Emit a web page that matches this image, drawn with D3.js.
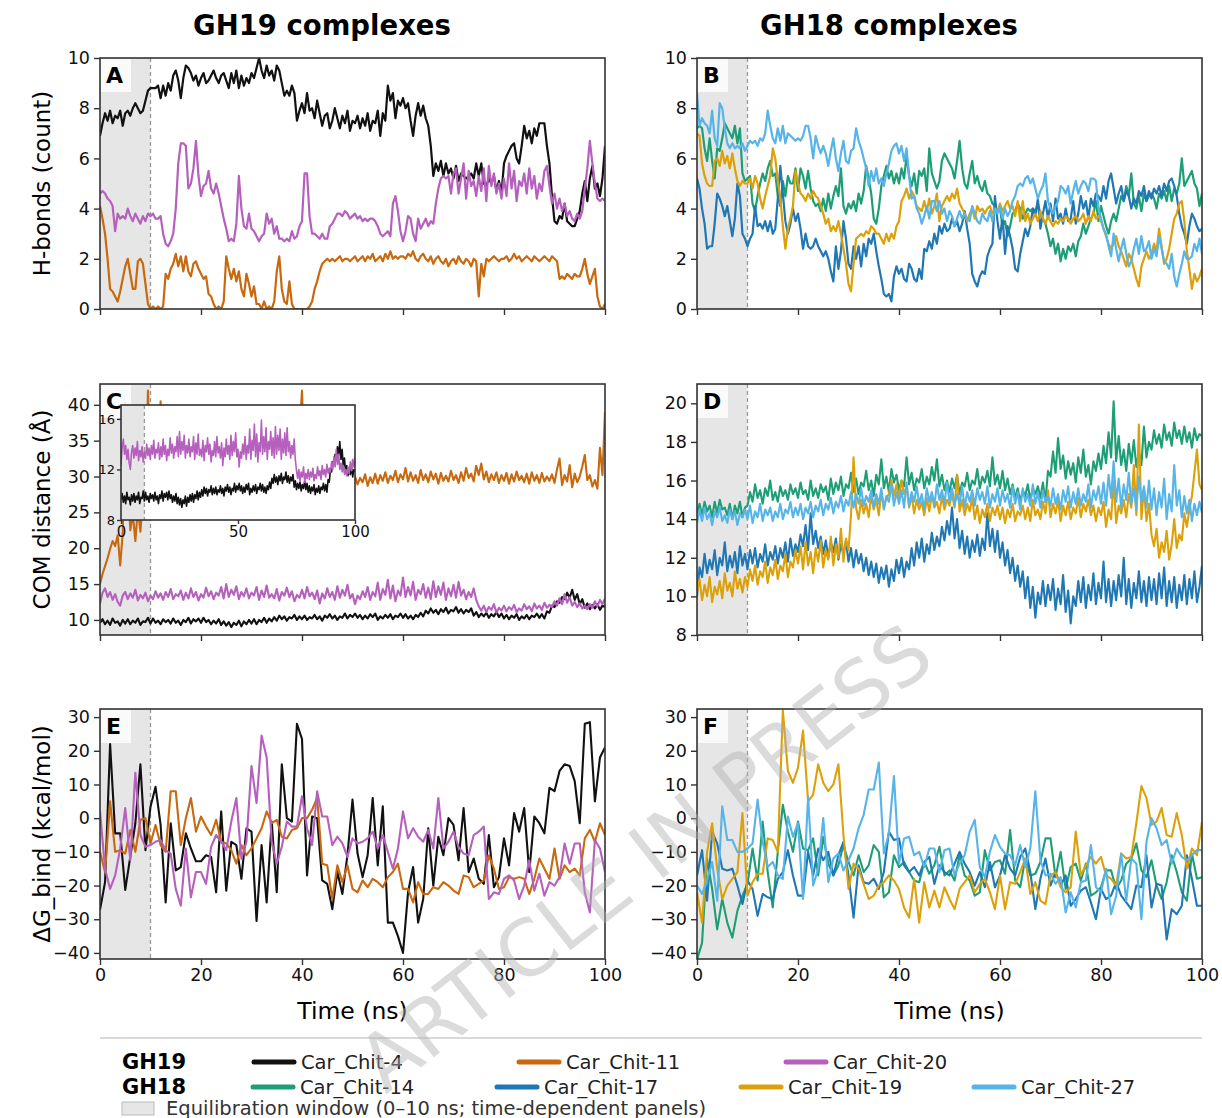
<!DOCTYPE html>
<html><head><meta charset="utf-8">
<script src="https://cdn.jsdelivr.net/npm/d3@7"></script>
<style>body{margin:0;background:#fff}svg{display:block}text{font-family:"DejaVu Sans",sans-serif}</style>
</head><body><svg id="c" width="1222" height="1118"></svg>
<script>
// ---------------- DATA ----------------
const seriesNames = ["Car_Chit-4","Car_Chit-11","Car_Chit-20","Car_Chit-14","Car_Chit-17","Car_Chit-19","Car_Chit-27"];
const xTicks = [0,20,40,60,80,100];
const hbTicks = [0,2,4,6,8,10];
const comGH19Ticks = [10,15,20,25,30,35,40];
const comGH18Ticks = [8,10,12,14,16,18,20];
const dgTicks = [-40,-30,-20,-10,0,10,20,30];
const insetXTicks = [0,50,100];
const insetYTicks = [8,12,16];

// H-bonds, 0.5 ns sampling (0..100 ns)
const hb4 = [6.9,7.4,7.8,7.5,7.9,7.4,7.7,7.6,7.9,7.3,7.8,7.9,7.7,8.0,8.2,8.0,7.8,7.9,8.3,8.7,
8.8,8.8,8.8,8.9,8.4,8.9,8.5,9.0,8.7,9.3,9.5,9.1,8.4,9.2,9.7,9.6,9.4,9.1,9.3,8.9,
9.2,9.4,9.0,9.1,9.3,9.5,9.2,9.0,9.3,9.4,9.1,8.8,9.4,9.0,9.5,8.8,9.3,8.9,9.2,9.0,
9.4,9.2,9.6,10.0,9.5,9.2,9.7,9.3,9.5,9.1,9.7,9.5,9.0,8.5,8.7,8.5,8.9,8.6,7.5,7.9,
8.2,7.8,8.6,7.9,8.0,7.6,8.3,7.8,7.3,7.7,7.8,7.2,7.5,8.0,7.6,7.2,7.7,7.4,7.9,7.1,
7.5,7.4,7.7,7.2,7.6,7.3,7.8,7.1,7.5,7.4,7.9,6.9,7.8,7.5,8.9,8.3,8.6,7.6,8.3,8.1,
8.4,8.0,8.2,7.5,6.9,7.7,8.2,7.7,8.1,7.6,7.3,6.5,5.3,5.8,5.5,5.9,5.3,5.8,5.4,5.6,
5.2,5.7,5.1,5.4,5.3,5.2,5.3,5.4,5.2,5.8,5.3,5.8,5.0,4.9,5.2,5.0,5.3,4.7,5.1,4.6,
5.8,6.1,6.3,6.5,6.6,6.0,5.8,6.5,7.3,6.8,7.1,6.6,7.2,6.9,7.4,7.4,7.4,6.5,5.8,4.5,
3.5,3.4,3.7,3.6,4.2,3.5,3.4,3.3,3.3,3.6,3.9,4.6,5.1,4.3,5.2,5.7,4.8,5.0,4.5,5.2,
6.5];
const hb11 = [4.1,3.6,3.0,2.0,0.8,0.7,0.5,0.3,0.7,1.2,1.7,2.0,1.4,0.8,0.8,1.9,2.0,1.8,1.0,0.2,
0.0,0.1,0.0,0.1,0.0,0.1,1.4,1.2,1.6,1.8,2.2,1.7,2.1,1.5,2.1,1.5,1.3,1.8,1.9,1.6,
1.4,1.2,1.3,0.6,0.5,0.2,0.0,0.1,0.0,0.3,2.1,1.6,1.2,1.6,1.1,1.5,0.8,0.5,1.4,1.0,
0.5,0.9,0.2,0.2,0.0,0.3,0.0,0.1,0.0,0.3,1.5,2.1,0.8,0.3,0.2,1.1,0.2,0.0,0.0,0.0,
0.0,0.0,0.0,0.1,0.3,0.8,1.1,1.5,1.8,1.9,2.0,1.9,2.0,1.9,2.0,2.1,1.9,2.0,2.0,1.9,
2.0,2.1,1.9,2.0,2.1,1.9,2.1,2.0,2.2,1.9,2.0,2.1,1.9,2.2,2.0,2.3,2.0,2.1,2.0,2.1,
2.1,2.0,2.2,2.1,2.3,2.0,1.9,2.1,2.2,2.0,1.9,2.1,1.8,2.0,2.1,1.9,1.8,2.0,1.7,1.9,
2.0,1.8,2.1,1.9,1.8,2.0,1.9,1.7,2.0,1.9,0.5,1.8,1.3,2.0,1.9,2.0,2.1,2.0,1.9,2.0,
2.0,2.1,1.9,2.0,2.2,2.0,2.1,1.9,2.0,2.1,2.0,1.9,2.1,2.0,1.9,2.0,2.1,2.0,1.9,2.1,
2.0,1.9,1.2,1.3,1.2,1.4,1.3,1.2,1.4,1.3,1.3,1.6,2.0,1.4,1.0,1.3,1.6,0.5,0.1,0.0,
0.2];
const hb20 = [4.6,4.7,4.6,4.4,4.3,4.1,3.1,3.8,3.6,3.7,3.6,4.0,3.7,3.5,3.8,3.6,3.4,3.7,3.5,3.8,
3.7,3.8,3.6,3.6,3.7,3.0,2.6,2.5,2.7,3.0,4.0,5.8,6.6,6.6,6.5,4.8,5.0,5.6,6.7,5.3,
4.5,4.9,5.0,5.5,4.8,4.6,5.0,4.6,4.1,3.6,3.2,2.7,2.8,2.7,3.4,5.3,4.0,3.3,3.2,3.8,
3.2,3.1,2.9,2.7,2.9,3.0,3.8,3.4,3.6,3.0,3.3,2.8,2.8,2.7,2.8,2.7,3.1,2.8,2.9,3.3,
3.5,5.4,5.4,3.7,3.0,3.0,2.9,2.8,3.0,2.8,2.8,3.3,3.4,3.6,3.8,3.8,3.7,3.9,3.8,3.6,
3.7,3.8,3.6,3.7,3.5,3.6,3.5,3.6,3.6,3.5,3.3,3.0,2.9,3.0,3.1,2.9,4.2,4.5,3.9,3.1,
2.7,3.1,3.7,3.6,3.0,2.7,3.6,3.2,3.4,3.6,3.3,3.5,3.4,4.2,4.8,5.2,5.3,5.2,5.3,4.6,
5.4,5.6,4.6,5.2,5.8,4.4,5.5,4.9,5.1,4.5,5.3,4.7,5.6,4.3,5.7,4.9,5.4,4.6,5.0,4.4,
5.2,4.5,5.8,4.8,5.5,4.3,5.1,4.9,5.4,4.6,5.6,4.8,5.3,4.4,5.0,4.7,5.5,5.7,4.9,4.2,
4.6,4.0,4.4,3.9,4.2,3.7,3.9,3.6,3.5,3.8,3.6,3.9,4.8,5.6,6.7,5.8,5.0,4.4,4.3,4.4,
4.3];
const hb14 = [7.2,7.3,7.2,6.4,5.9,6.8,5.9,5.2,6.4,6.3,6.8,7.4,7.2,7.0,6.8,7.3,6.6,7.2,5.4,5.1,
5.2,5.3,4.2,3.9,4.5,5.0,5.4,5.1,5.6,5.9,5.3,5.4,4.5,4.1,5.1,4.5,5.3,5.0,5.0,5.6,
4.7,5.6,5.3,4.8,5.5,4.8,4.3,4.1,4.2,3.9,4.4,3.9,4.6,4.0,4.5,4.9,4.5,5.6,4.1,3.8,
4.2,4.0,4.3,3.9,4.6,4.2,4.7,5.7,5.2,4.6,3.6,3.4,4.0,4.9,5.3,5.7,5.2,5.5,5.0,5.4,
5.0,5.6,5.2,6.1,5.3,4.9,5.4,4.6,5.5,5.3,5.6,4.7,6.4,5.4,5.1,4.8,5.1,5.9,6.2,6.0,
5.8,5.6,5.2,5.9,6.7,5.6,5.0,4.8,5.4,5.9,5.0,5.3,4.9,4.7,5.1,4.6,4.5,4.2,4.1,3.9,
4.0,3.3,3.5,2.9,3.3,3.8,3.9,4.2,4.0,3.6,3.8,4.0,3.9,4.0,3.9,4.2,3.8,3.6,3.4,3.0,
2.5,2.8,2.2,2.6,1.9,2.4,2.0,2.5,2.3,2.6,2.1,2.7,2.9,3.4,3.0,3.3,3.6,3.8,4.3,3.5,
4.1,3.7,3.3,3.0,3.5,3.8,3.5,4.0,4.5,4.3,4.9,4.5,5.4,4.2,4.0,4.5,3.9,4.6,4.3,4.5,
4.6,4.4,4.0,4.6,4.4,4.7,4.3,4.9,4.3,4.8,4.6,5.0,6.0,4.9,5.1,5.3,5.5,5.0,4.8,4.1,
4.6];
const hb17 = [5.2,4.8,4.0,3.4,2.4,2.5,2.5,3.4,4.6,4.4,4.1,3.7,4.1,3.5,2.9,3.6,5.0,4.5,3.0,2.8,
2.5,2.8,3.0,4.1,3.3,3.4,3.2,3.5,3.1,3.5,3.0,3.2,4.4,5.7,4.6,3.5,3.0,3.4,4.0,3.5,
3.8,3.2,2.4,3.0,2.5,2.4,2.5,2.8,2.5,2.3,2.1,2.3,2.0,1.5,1.1,2.5,1.6,2.3,3.5,2.8,
1.8,1.6,2.5,2.0,2.5,1.7,2.6,2.1,2.8,2.6,3.0,2.3,1.7,1.2,0.6,0.5,0.6,0.3,1.3,1.7,
1.4,1.6,1.2,1.1,1.8,1.6,1.2,1.1,1.6,1.2,2.4,2.3,2.7,2.4,3.0,2.6,3.3,3.0,3.4,3.1,
3.2,3.6,3.3,3.5,3.1,3.4,3.9,3.2,2.6,1.4,1.1,0.9,1.3,1.5,1.4,2.1,2.4,2.6,4.5,3.5,
2.8,3.7,2.2,3.3,2.9,2.4,1.6,1.5,2.2,2.7,3.2,2.9,3.3,4.0,3.7,4.4,3.2,3.8,4.3,3.6,
4.2,3.5,4.4,3.6,3.8,3.4,4.0,3.5,3.6,4.3,3.4,3.8,4.5,4.0,4.3,3.6,4.4,4.1,4.6,4.5,
4.3,4.9,4.4,5.1,5.4,4.8,4.2,4.6,4.9,4.3,4.7,4.5,4.0,4.4,4.2,4.7,4.5,4.9,4.3,4.7,
4.4,4.8,4.6,4.9,4.5,5.0,4.7,5.1,5.2,4.9,4.5,3.8,3.3,3.0,2.6,3.3,3.8,3.6,3.3,3.1,
3.2];
const hb19 = [7.0,6.9,5.8,5.3,5.0,4.9,4.9,5.9,6.0,5.7,6.3,5.8,6.1,5.6,6.2,5.6,5.1,4.9,5.1,5.0,
5.0,5.2,4.8,5.3,5.0,4.4,4.0,4.5,4.9,5.3,6.4,6.0,5.1,4.4,3.3,2.4,3.2,3.6,4.1,5.5,
5.0,4.6,4.5,4.3,4.6,4.4,4.7,4.5,4.4,4.1,3.8,3.4,3.6,3.1,3.3,3.1,3.5,3.0,2.4,1.8,
1.0,0.7,1.8,2.8,2.9,3.0,2.9,3.1,3.0,3.3,3.2,3.0,3.0,2.8,2.6,3.0,2.7,3.0,2.8,3.3,
3.5,4.3,4.5,4.8,4.4,4.7,4.5,4.1,4.0,3.9,4.3,3.9,4.4,3.8,4.1,4.6,3.5,4.1,4.3,4.5,
4.3,4.6,4.4,4.8,4.2,4.0,3.8,3.5,3.8,4.0,3.6,4.1,3.9,4.0,3.8,4.0,4.1,3.8,4.0,3.9,
4.2,3.9,4.1,4.3,4.0,4.1,3.7,4.3,3.5,4.3,3.5,3.8,3.4,3.6,3.8,3.5,3.9,3.6,3.4,3.7,
3.5,3.3,3.5,3.4,3.6,3.5,3.7,3.6,3.4,3.6,3.7,3.5,3.6,3.8,3.4,3.7,3.5,3.9,3.6,3.7,
3.5,3.2,2.9,2.6,2.4,2.6,2.9,2.5,2.3,2.0,1.7,2.2,2.0,1.6,1.2,0.9,1.7,2.0,2.3,2.0,
2.2,2.6,2.3,3.2,2.5,1.8,2.0,2.4,3.0,3.6,3.8,4.2,4.3,3.5,2.3,1.6,0.8,1.4,1.1,1.3,
1.6];
const hb27 = [8.6,7.3,7.6,7.4,7.3,7.0,7.9,6.8,6.5,8.2,8.0,7.2,6.6,6.4,6.6,6.4,6.5,6.4,6.6,6.3,
6.5,6.7,6.6,6.7,6.5,6.8,6.7,7.0,7.9,7.3,6.8,6.6,7.2,6.7,7.3,6.6,7.0,6.9,6.8,6.7,
6.8,6.7,6.9,7.3,7.3,6.8,6.0,6.9,6.5,6.2,6.5,6.2,5.7,6.3,6.8,6.0,5.5,6.2,6.7,5.9,
5.8,6.3,6.4,7.2,6.7,6.4,6.0,5.6,4.9,5.5,5.1,5.6,5.0,5.2,4.9,5.4,5.8,6.3,6.5,6.6,
6.2,6.5,5.9,6.4,5.3,4.4,4.5,4.0,3.8,3.4,3.7,4.1,3.6,4.3,4.3,3.9,4.3,3.8,4.0,3.5,
3.9,3.7,3.3,3.6,3.9,3.6,3.8,3.6,3.5,4.1,3.8,3.5,3.4,3.8,3.6,3.5,3.9,3.5,4.0,3.8,
4.1,3.6,4.0,3.7,3.9,4.3,4.5,4.9,5.0,4.9,5.2,5.3,5.0,5.2,4.8,4.4,4.7,4.9,5.4,4.3,
4.0,3.8,4.1,4.3,4.9,4.8,4.6,4.9,4.2,4.7,5.1,4.6,4.9,5.1,5.0,4.7,5.2,5.2,5.1,4.0,
3.6,3.2,3.0,2.5,2.1,3.0,2.4,1.9,2.4,2.8,2.2,1.7,1.9,2.4,2.8,2.2,2.9,2.3,2.4,2.7,
2.0,2.4,2.1,2.9,2.4,1.9,1.8,1.6,2.2,1.3,0.9,1.4,1.8,2.3,2.0,2.0,2.1,2.6,2.3,2.8,
2.2];

// COM distance (Å), 0.5 ns sampling
const com4 = [9.6,10.1,9.4,9.9,9.3,10.2,9.6,9.8,9.2,10.0,9.5,10.1,9.4,9.9,9.6,10.2,9.3,9.8,9.7,10.3,
9.5,10.2,9.6,9.9,9.4,10.1,9.7,10.0,9.5,10.2,9.6,9.9,9.3,10.0,9.7,10.3,9.5,10.1,9.8,10.2,
9.6,10.3,9.7,10.0,9.4,9.9,9.5,10.1,9.3,9.8,9.2,9.7,9.0,9.6,9.3,9.9,9.1,9.8,9.4,10.0,
9.5,10.1,9.4,10.0,9.7,10.3,9.6,10.2,9.8,10.4,9.9,10.6,10.1,10.5,9.9,10.4,10.2,10.7,10.0,10.5,
10.1,10.6,10.0,10.4,10.2,10.7,10.1,10.5,9.9,10.6,10.3,10.8,10.2,10.6,10.0,10.5,10.3,10.9,10.2,10.7,
10.4,10.9,10.3,10.7,10.1,10.6,10.2,10.8,10.4,10.9,10.0,10.5,10.2,10.7,10.3,10.8,10.1,10.6,10.4,10.9,
10.3,10.8,10.2,10.6,10.1,10.7,10.4,11.0,10.5,11.3,10.9,11.6,11.0,11.4,10.8,11.5,11.1,11.7,10.9,11.4,
11.2,11.8,11.0,11.5,10.9,11.4,11.1,11.6,10.6,11.1,10.4,10.9,10.5,11.0,10.3,10.8,10.5,11.1,10.4,10.9,
10.2,10.7,10.1,10.6,10.3,10.8,10.0,10.5,10.2,10.7,10.1,10.6,10.4,10.9,10.3,10.8,10.2,11.2,11.0,12.0,
11.8,12.6,12.4,13.2,12.9,13.8,13.1,14.2,12.8,13.6,12.2,12.9,11.7,12.3,11.5,12.1,11.6,12.2,11.4,12.0,
11.8];
const com11 = [15.0,16.4,17.5,18.6,19.9,21.0,20.3,21.8,17.6,22.1,40.2,30.0,22.5,24.8,21.0,25.6,22.3,27.0,28.5,42.0,
29.0,30.6,29.4,31.0,40.5,29.8,30.4,29.2,30.7,29.5,30.2,29.0,30.8,29.6,30.3,29.1,30.6,29.4,30.0,29.3,
30.5,29.2,30.8,29.6,30.1,29.0,30.7,29.5,30.3,29.1,30.9,29.4,30.2,29.7,30.6,29.0,30.4,29.3,30.8,29.5,
30.1,29.2,30.7,29.6,30.3,29.0,30.9,29.4,30.2,29.8,30.6,29.1,30.4,29.5,30.8,29.3,30.0,29.6,30.5,36.0,
42.0,30.5,29.4,30.2,29.1,30.6,29.5,30.3,29.0,30.7,29.4,30.1,29.6,30.5,29.2,30.8,29.3,30.0,29.5,30.4,
28.8,30.0,28.9,29.8,29.2,30.3,28.7,29.9,29.1,30.4,29.0,30.2,29.4,30.6,29.1,30.1,29.5,30.8,29.2,30.3,
29.6,31.2,29.3,30.6,29.4,30.2,29.1,30.9,29.5,30.3,29.2,30.7,29.6,30.4,29.0,30.5,29.4,30.1,29.3,30.8,
29.5,30.2,29.1,30.6,29.4,31.2,29.8,30.4,29.3,31.5,30.2,31.8,29.6,30.7,29.2,30.3,29.5,30.6,29.1,30.2,
29.4,30.5,29.0,30.3,29.3,30.7,29.5,30.1,29.2,30.4,29.0,30.6,29.4,30.2,29.1,30.5,29.3,30.0,29.4,30.3,
29.1,31.0,32.5,28.8,30.2,29.3,31.6,28.5,30.4,29.2,30.0,31.4,33.0,29.5,30.2,28.6,29.5,28.3,34.0,30.2,
39.0];
const com20 = [12.3,13.8,14.4,13.2,13.9,12.8,13.6,12.5,12.0,13.4,13.9,12.9,13.7,13.1,14.2,12.7,13.5,13.0,13.8,12.6,
13.4,12.9,14.0,13.1,13.7,12.8,13.9,13.2,14.3,12.9,13.6,13.3,14.1,12.8,13.8,13.0,14.4,13.2,13.9,12.7,
13.6,13.1,14.5,13.3,14.0,12.9,13.8,13.4,14.6,13.0,15.0,13.2,14.2,13.5,14.7,12.9,13.9,13.3,14.4,13.0,
13.8,13.4,14.6,12.8,14.1,13.2,14.8,13.1,13.6,13.0,14.3,12.7,13.9,13.4,14.5,13.2,14.0,12.6,13.5,13.1,
14.2,13.0,14.6,13.3,13.8,12.9,14.1,12.3,13.7,13.0,14.4,13.2,13.9,12.8,14.7,13.1,14.2,13.4,14.9,13.0,
13.6,12.2,13.4,12.9,14.0,13.2,14.6,12.8,13.9,13.3,15.2,12.8,14.3,13.5,15.6,13.0,14.8,12.6,14.1,13.4,
15.9,13.2,14.6,13.4,15.3,12.8,14.2,13.6,15.0,13.1,14.5,12.9,15.4,13.2,14.7,13.5,15.2,12.8,14.4,13.3,
14.9,13.1,15.3,13.4,14.2,12.9,13.9,13.2,14.4,12.8,11.9,11.3,12.0,11.1,11.8,11.4,12.2,11.0,11.7,11.3,
12.0,11.2,11.8,11.4,12.1,11.1,11.6,11.3,12.2,11.5,11.9,11.2,12.3,11.6,12.0,11.4,12.4,11.7,12.1,11.8,
12.6,12.0,13.0,12.2,13.6,12.4,13.2,12.0,12.5,11.8,12.3,11.6,12.0,11.5,12.2,11.7,12.6,11.9,12.8,12.2,
13.0];
const com14 = [14.3,14.8,14.2,14.9,14.4,14.7,14.1,14.9,14.3,15.0,14.5,14.6,14.2,14.8,14.0,14.7,14.3,14.9,14.1,14.6,
14.7,15.4,14.9,15.8,15.1,15.5,14.8,15.6,15.2,16.0,15.0,15.4,14.9,15.7,15.2,15.5,15.0,15.8,15.3,15.6,
15.1,15.9,15.3,15.5,15.0,16.0,15.2,15.6,15.1,15.8,15.4,15.7,15.0,16.1,15.3,15.9,15.5,16.2,15.2,15.8,
15.6,16.4,15.4,16.1,15.3,15.9,15.7,16.5,15.5,16.0,15.2,16.3,15.8,17.1,15.6,16.2,15.4,16.6,15.9,16.3,
15.5,16.0,15.7,17.2,15.8,16.4,15.5,16.1,15.9,16.6,15.6,16.2,15.8,16.7,16.0,17.1,15.7,16.3,15.5,16.0,
15.4,16.1,15.6,16.3,15.3,15.9,15.7,16.4,15.5,16.0,15.8,16.6,15.6,16.2,15.9,16.5,15.7,17.2,15.8,16.3,
15.6,16.5,15.5,16.1,15.3,15.8,15.1,15.6,14.9,15.5,15.2,15.8,15.0,15.6,15.3,15.7,15.1,15.9,14.9,16.5,
16.2,17.5,16.4,18.2,16.6,17.3,16.1,17.0,16.3,16.9,15.9,17.2,16.4,17.6,16.2,16.8,15.8,17.0,16.5,17.4,
16.6,17.8,16.9,18.5,17.2,20.1,17.0,18.3,16.8,17.6,16.5,17.9,16.9,18.1,16.7,17.5,16.8,18.8,17.2,18.0,
17.6,18.6,17.9,18.4,17.7,18.9,18.1,18.5,17.8,19.0,18.2,18.6,17.9,18.8,18.0,18.5,17.7,18.7,18.1,18.4,
18.3];
const com17 = [10.0,11.5,11.0,12.2,11.2,11.9,11.4,12.4,11.1,12.0,11.6,12.8,11.3,12.1,11.5,12.3,11.2,12.6,11.6,12.2,
11.4,12.4,11.7,12.5,11.5,12.2,11.8,12.7,11.6,12.3,11.9,12.6,11.7,12.5,12.0,12.8,11.8,13.0,12.1,12.7,
12.3,13.2,12.6,13.7,12.4,14.3,12.7,13.4,12.5,13.1,12.2,12.9,12.0,12.8,12.3,13.0,11.9,12.7,12.2,12.9,
11.8,12.5,11.5,12.4,11.7,12.2,11.3,12.0,11.1,11.8,11.0,11.7,10.7,11.5,10.9,11.6,10.5,11.4,10.8,11.9,
11.2,12.0,11.0,11.8,11.4,12.5,11.6,12.8,12.0,13.0,11.8,12.7,12.2,13.3,12.4,13.1,12.6,13.6,12.9,13.9,
13.2,14.6,13.0,14.0,12.5,13.4,12.2,13.1,12.0,12.9,12.3,13.2,12.1,13.0,12.4,14.3,12.6,13.5,12.3,13.4,
12.0,12.8,11.6,12.4,11.2,12.0,10.8,11.6,10.5,11.3,9.9,11.0,9.4,10.5,8.9,10.2,9.6,10.8,9.5,10.6,
9.8,10.9,9.3,10.4,9.6,11.1,9.2,10.3,8.6,10.0,9.5,10.8,9.7,11.0,9.4,10.6,9.8,11.2,9.6,10.7,
9.9,11.8,9.7,10.9,9.5,10.8,9.8,11.1,10.0,12.0,9.6,10.9,9.4,10.7,9.9,11.3,9.7,10.8,9.5,11.0,
9.8,10.9,9.6,11.2,9.9,11.5,9.5,10.8,9.7,11.0,9.4,10.6,9.8,11.1,9.6,10.9,9.9,11.3,9.7,10.5,
11.6];
const com19 = [10.2,10.9,9.8,10.6,10.0,11.0,9.7,10.5,10.1,10.8,9.9,11.2,10.3,10.7,10.0,11.3,10.4,10.9,10.2,11.0,
10.5,11.4,10.8,11.6,10.6,11.3,11.0,11.8,10.7,11.5,11.1,11.9,10.9,11.6,11.3,12.2,11.0,11.8,11.5,12.4,
11.7,12.6,11.4,12.8,11.6,12.3,11.2,12.5,11.8,12.9,11.5,12.4,11.9,13.1,11.6,12.7,12.0,13.5,11.8,13.0,
12.4,14.2,17.2,14.6,14.0,15.0,14.3,14.8,14.1,15.2,14.5,15.0,14.2,15.4,14.6,15.1,15.3,16.0,15.2,15.8,
15.1,16.0,15.3,15.7,14.6,15.2,14.3,15.0,14.5,14.9,14.2,15.1,14.4,15.3,14.6,14.9,14.3,15.2,14.5,15.0,
14.7,15.3,14.6,16.3,14.4,15.0,14.2,14.8,14.4,15.1,14.0,14.7,13.8,14.5,14.1,14.8,13.9,14.6,14.2,14.7,
14.0,14.6,13.8,14.5,14.1,14.8,13.9,14.4,14.2,14.7,14.0,14.6,13.9,15.0,14.2,14.5,14.0,14.9,14.3,15.5,
14.1,14.8,14.3,15.0,13.9,14.7,14.2,14.9,14.0,14.6,14.3,15.1,14.1,14.8,14.4,15.0,14.2,14.7,13.9,14.6,
14.2,14.9,13.6,14.5,14.0,16.0,13.8,14.7,14.3,15.0,14.1,15.3,14.6,16.8,14.2,18.9,14.0,15.6,13.9,14.8,
13.2,12.6,13.5,12.0,12.8,12.3,13.4,11.9,12.7,14.0,12.5,13.2,12.9,14.3,13.6,14.5,15.2,16.4,17.6,15.8,
15.5];
const com27 = [13.8,14.5,13.9,14.6,14.0,14.3,13.7,14.4,14.1,14.6,13.9,14.2,13.8,14.5,14.0,14.4,13.7,14.3,14.1,14.5,
14.0,14.7,13.8,14.4,14.1,14.8,13.9,14.5,14.2,14.6,13.9,14.4,14.1,14.8,14.0,14.5,14.3,14.9,14.1,14.6,
14.2,14.8,14.0,14.6,14.3,14.9,14.1,14.7,14.4,15.0,14.2,14.8,14.5,15.1,14.3,14.9,14.6,15.2,14.4,15.0,
14.7,15.4,14.6,15.3,14.8,15.6,14.7,15.2,14.9,15.5,14.6,15.3,14.8,15.6,14.5,15.2,14.9,15.8,14.7,15.4,
14.8,15.5,14.6,15.9,14.7,15.4,14.9,15.7,14.8,15.3,14.5,15.6,14.9,15.4,14.7,15.8,15.0,15.5,14.8,15.9,
14.9,15.6,14.7,15.3,14.8,15.7,14.6,15.4,14.9,15.5,14.7,15.6,15.0,15.4,14.8,15.7,14.6,15.3,14.9,15.6,
14.7,15.5,14.9,15.3,14.6,15.7,14.8,15.4,14.5,15.6,14.9,15.3,14.7,15.8,14.8,15.4,14.6,15.5,14.9,15.2,
14.7,15.6,14.8,15.3,14.5,15.5,14.9,15.7,14.6,15.4,14.8,15.6,14.7,15.3,14.9,15.8,14.6,15.5,15.0,15.7,
14.8,15.9,14.7,16.3,15.1,17.0,14.9,16.1,14.6,15.8,15.0,16.4,14.8,15.6,14.5,16.2,14.9,15.7,14.6,16.0,
14.5,15.6,14.2,15.4,14.6,16.1,14.0,15.3,14.4,16.8,14.7,15.5,14.1,15.2,14.3,15.0,13.9,14.8,14.2,14.9,
14.3];

// ΔG_bind (kcal/mol), 1 ns sampling
const dg4 = [-27.2,-19,22,-4.5,-4.5,-21.3,-11.4,-1.5,16,-9.5,3.4,9.3,-2,-25,-1.5,-15.5,-14.5,-4.5,-9,-12.8,-12.8,-11,-11.5,-22,2,-21.5,-7,-8,-18,-3,-4,-30.5,-8,-25,-1,-22,16,0,-1,28,23.5,-17,0.5,0,-18.5,-19.5,-27,-16,-22.5,-11,5.5,-10.5,-17.5,-11,6,-14,3.5,-31,-31,-35,-40,-22,-14.5,-31,-24,-3,-20,-5.5,-11,0,-2,-12.5,3,-16,-12,-18,-19.5,-5,-20.5,-17.5,-6,-14,1.5,-4,3,-16,0.5,-1.5,-4.5,9,8,14,16,15.5,11,-1.5,28,28.5,5,18,21];
const dg11 = [-10,-16,5,-10,-9.5,-10.5,-3.5,-10,-0.5,0,-7.5,-2,-8,-10,8,8,-8,0,6,-4,0.5,-2.5,-5,-0.5,-7,-7.5,-9.5,-13.5,-8,-11,-9,-6,-3,2,-1.5,-0.5,-5.5,-6,-3.5,-3,0,0,2.5,6,-13.5,-14,-24,-14,-19,-14,-21,-22,-18.5,-20.5,-18,-19,-20.5,-17.5,-16,-13.5,-21,-21,-25,-19,-22.5,-22.5,-20.5,-21,-19,-20,-21.5,-22.5,-17,-17.5,-20.5,-19.5,-18.5,-11,-15,-21,-20.5,-17.5,-18,-17.5,-18,-22.5,-18,-12,-15,-18,-9,-18,-14,-16,-15,-17,-6,-3.5,-7,-1.5,-5];
const dg20 = [2,-15,-21,-17,-9,3,-12.5,13.5,-5,-8.5,-8,-7,-6.5,-9.5,-10.5,-21,-26,-9,-23.5,-16,-16,-19.5,-8.5,-5,-7,-9.5,-1,6,-12,-7,15.5,4.5,24.5,18,-7,-13.5,-8.5,-1,-2.5,-2.5,6.5,-3,-8,8,0.5,0.5,-8,-5.5,-7.5,-11.5,-6,-7.5,-7,-6,-4,-9,-5,-10,-15,-9,2,-6,-3,-5.5,-7,-3.5,-9,6,-9,-7,-4,-8.5,-10.5,-11,-5,-4,-2.5,-24,-22,-22.5,-18,-17,-18.5,-24,-20,-12.5,-21.5,-16.5,-23,-19,-20,-17.5,-7.5,-13.5,-7.5,-7.5,-22,-28,-6.5,-9,-16];
const dg14 = [-42,-37,-12,-21,-33,-24,-31,-35.5,-27.5,-23,-19.5,-9,-18.5,-1,-16,-26.5,-10,4,-4,-10,-1,-9,-9.5,-6,-17,-5.5,-13.5,-17,-14,-8,-13,-17,-11,-16,-14,-8,-10,-23.5,-22,-11,-14.5,-13,-16,-18.5,-19,-13,-16.5,-14,-8.5,-17,-15.5,-18.5,-11,-17,-18.5,-23,-22,-9.5,-15.5,-13,-12.5,-16.5,-3.5,-18.5,-20.5,-12,-17,-16.5,-13,-6,-6,-17.5,-10,-21,-14.5,-13.5,-18.5,-13.5,-23,-22,-20.5,-15.5,-15.5,-21,-18.5,-13.5,-12,-7.5,-15.5,-17.5,-12.5,-20,-24,-19,-11,-16,-22,-24.5,-10.5,-18,-17.5];
const dg17 = [-17,-9.5,-24.5,-4,-7.5,-15,-15.5,-15,-20,-25.5,-18.5,-21,-29,-22.5,-23.5,-24,-18,-16,-9.5,-17,-23,-23,-10,-17,-9,-12.5,-10,-17,-11,-7,-17,-29.5,-14,-19,-19.5,-18,-21,-16,-4,-6.5,-6,-14,-16,-14.5,-17,-13,-11.5,-19.5,-14,-16,-17,-13.5,-10,-13.5,-16,-20,-16,-20.5,-13,-20.5,-17,-11,-15,-17,-11.5,-9,-16,-27,-18,-12,-20,-16,-20,-17,-26,-24,-21.5,-20.5,-25,-30,-21,-24,-23,-19,-23,-25,-27,-20,-20.5,-11,-26.5,-19.5,-20,-36,-27,-28.5,-26,-11,-18,-26,-26];
const dg19 = [-22,-31,-10,-1.5,-15,-24,-20,-18,-16,1.5,-23,-19,-16.5,-16.5,-6,-6.5,-10,32,14,10.5,15,26,5,7,16,10.5,8,10,16,-5,-21,-13.5,-15,-19.5,-24,-23,-20,-19,-17,-18.5,-21,-26.5,-29.5,-18,-31,-19,-26.5,-21.5,-26.5,-20.5,-24,-27,-21,-19,-17,-22,-19.5,-18,-22,-27,-17,-27,-19,-19.5,-16,-12,-22.5,-19,-24.5,-25.5,-17,-16,-20.5,-22,-20.5,-4,-17,-14,-11.5,-13.5,-11.5,-17,-18,-20,-10.5,-12,-11.5,-1.5,9.5,6,-2,-1,3,-5,-5.5,1.5,-5,-15,-9,-11,-1];
const dg27 = [-20,-22.5,-18.5,-13,-24.5,3.5,-6.5,-6.5,-10,-10,-9,-7.5,5.5,-7,-14.5,-13,-17,-18,0.5,-5.5,-1.5,-24,6.5,-20,-15,0,-19,-12,-10.5,-15.5,-12.5,-9,-3,1,8.5,8.5,16.5,-10.5,-4.5,12.5,-13.5,-6,-5.5,-11,-10,-14.5,-9,-9,-16,-9.5,-9,-17,-13.5,-11,-4,-0.5,-14.5,-17.5,-10,-5,-8.5,-10.5,-11,-14,-8,-14.5,-9,8,-12.5,-17,-16.5,-19.5,-17.5,-28,-22,-26.5,-19,-18.5,-8,-20.5,-22,-15,-28.5,-23,-10.5,-24.5,-12,-13.5,-30,-7,0,-3,-8,-6.5,-13.5,-9,-11.5,-12.5,-11,-9.5,-9.5];

// ---------------- STYLE ----------------
const COL = {"Car_Chit-4":"#111111","Car_Chit-11":"#c8680f","Car_Chit-20":"#b660bd",
  "Car_Chit-14":"#1e9e76","Car_Chit-17":"#1f77b4","Car_Chit-19":"#dca10a","Car_Chit-27":"#56b4e9"};
const svg = d3.select("#c");
const FR = "#333";
const colL = {x0:100,x1:605}, colR = {x0:697,x1:1202};
const rowA = {y0:58,y1:309}, rowC = {y0:384,y1:635}, rowE = {y0:709,y1:959};
const defs = svg.append("defs");
let clipN = 0;

function drawPanel(p){
  const x = d3.scaleLinear().domain([0,100]).range([p.x0,p.x1]);
  const y = d3.scaleLinear().domain(p.yd).range([p.y1,p.y0]);
  const g = svg.append("g");
  const cid = "clip"+(clipN++);
  defs.append("clipPath").attr("id",cid).append("rect")
    .attr("x",p.x0).attr("y",p.y0).attr("width",p.x1-p.x0).attr("height",p.y1-p.y0);
  if(p.bg) g.append("rect").attr("x",p.x0).attr("y",p.y0).attr("width",p.x1-p.x0).attr("height",p.y1-p.y0).attr("fill","#fff");
  g.append("rect").attr("x",x(0)).attr("y",p.y0).attr("width",x(10)-x(0)).attr("height",p.y1-p.y0).attr("fill","#e6e6e6");
  g.append("line").attr("x1",x(10)).attr("x2",x(10)).attr("y1",p.y0).attr("y2",p.y1)
    .attr("stroke","#999").attr("stroke-width",1.3).attr("stroke-dasharray","4,3");
  const lg = g.append("g").attr("clip-path",`url(#${cid})`);
  p.series.forEach(s=>{
    const n = s.vals.length;
    const line = d3.line().x((d,i)=>x(i*100/(n-1))).y(d=>y(d));
    lg.append("path").attr("d",line(s.vals)).attr("fill","none")
      .attr("stroke",COL[s.name]).attr("stroke-width",p.lw).attr("stroke-linejoin","round");
  });
  const ya = g.append("g").attr("transform",`translate(${p.x0},0)`)
    .call(d3.axisLeft(y).tickValues(p.yt).tickSize(p.tk||6).tickPadding(p.tp||4).tickFormat(d3.format("d")));
  const xa = g.append("g").attr("transform",`translate(0,${p.y1})`)
    .call(d3.axisBottom(x).tickValues(p.xt).tickSize(p.tk||6).tickPadding(p.tp||4).tickFormat(p.xlab?d3.format("d"):""));
  [ya,xa].forEach(a=>{
    a.select(".domain").remove();
    a.selectAll(".tick line").attr("stroke",FR).attr("stroke-width",1.4);
    a.selectAll(".tick text").attr("fill","#111").style("font-size",(p.fs||17.5)+"px").style("font-family","DejaVu Sans");
  });
  if(p.yfs) ya.selectAll(".tick text").style("font-size",p.yfs+"px");
  g.append("rect").attr("x",p.x0).attr("y",p.y0).attr("width",p.x1-p.x0).attr("height",p.y1-p.y0)
    .attr("fill","none").attr("stroke",FR).attr("stroke-width",1.6);
  if(p.letter){
    g.append("rect").attr("x",p.x0+1).attr("y",p.y0+1).attr("width",30).attr("height",33)
      .attr("fill","#fff").attr("opacity",0.8);
    g.append("text").attr("x",p.x0+6).attr("y",p.y0+25).text(p.letter)
      .style("font-size","22px").style("font-weight","bold").attr("fill","#000");
  }
  return {x,y};
}
function S(name,vals){return {name,vals};}

drawPanel({...colL,...rowA,yd:[0,10],yt:hbTicks,xt:xTicks,lw:2.2,letter:"A",
  series:[S("Car_Chit-4",hb4),S("Car_Chit-11",hb11),S("Car_Chit-20",hb20)]});
drawPanel({...colR,...rowA,yd:[0,10],yt:hbTicks,xt:xTicks,lw:2.2,letter:"B",
  series:[S("Car_Chit-14",hb14),S("Car_Chit-17",hb17),S("Car_Chit-19",hb19),S("Car_Chit-27",hb27)]});
drawPanel({...colL,...rowC,yd:[7.9,42.9],yt:comGH19Ticks,xt:xTicks,lw:2.1,letter:"C",
  series:[S("Car_Chit-4",com4),S("Car_Chit-11",com11),S("Car_Chit-20",com20)]});
drawPanel({...colR,...rowC,yd:[8,21],yt:comGH18Ticks,xt:xTicks,lw:2.1,letter:"D",
  series:[S("Car_Chit-14",com14),S("Car_Chit-17",com17),S("Car_Chit-19",com19),S("Car_Chit-27",com27)]});
drawPanel({...colL,...rowE,yd:[-41.8,32.4],yt:dgTicks,xt:xTicks,lw:2.1,letter:"E",xlab:true,
  series:[S("Car_Chit-4",dg4),S("Car_Chit-11",dg11),S("Car_Chit-20",dg20)]});
drawPanel({...colR,...rowE,yd:[-41.8,32.4],yt:dgTicks,xt:xTicks,lw:2.1,letter:"F",xlab:true,
  series:[S("Car_Chit-14",dg14),S("Car_Chit-17",dg17),S("Car_Chit-19",dg19),S("Car_Chit-27",dg27)]});

// inset in C
drawPanel({x0:121,x1:355,y0:405,y1:520,yd:[8,17.1],yt:insetYTicks,xt:insetXTicks,lw:1.6,xlab:true,bg:true,
  tk:4,tp:2,fs:15,yfs:13,
  series:[S("Car_Chit-4",com4),S("Car_Chit-20",com20)]});

function txt(x,y,s,o={}){
  const t = svg.append("text").attr("x",x).attr("y",y).text(s).attr("fill",o.fill||"#000")
    .attr("text-anchor",o.anchor||"middle").style("font-size",(o.size||21)+"px");
  if(o.bold) t.style("font-weight","bold");
  if(o.rot!==undefined) t.attr("transform",`rotate(${o.rot},${x},${y})`);
  if(o.mid) t.attr("dominant-baseline","central");
  return t;
}
txt(322,35,"GH19 complexes",{size:27.5,bold:true});
txt(889,35,"GH18 complexes",{size:27.5,bold:true});
txt(50,(rowA.y0+rowA.y1)/2,"H-bonds (count)",{rot:-90,size:23});
txt(50,(rowC.y0+rowC.y1)/2,"COM distance (Å)",{rot:-90,size:23});
txt(50,(rowE.y0+rowE.y1)/2,"ΔG_bind (kcal/mol)",{rot:-90,size:23});
txt((colL.x0+colL.x1)/2,1019,"Time (ns)",{size:23.5});
txt((colR.x0+colR.x1)/2,1019,"Time (ns)",{size:23.5});

// legend
svg.append("line").attr("x1",100).attr("x2",1202).attr("y1",1038).attr("y2",1038).attr("stroke","#ccc").attr("stroke-width",1.5);
txt(122,1062,"GH19",{anchor:"start",size:21,bold:true,mid:true});
txt(122,1087,"GH18",{anchor:"start",size:21,bold:true,mid:true});
const legendItems = [
  {name:"Car_Chit-4",x:254,y:1062},{name:"Car_Chit-11",x:519,y:1062},{name:"Car_Chit-20",x:786,y:1062},
  {name:"Car_Chit-14",x:253,y:1087},{name:"Car_Chit-17",x:497,y:1087},{name:"Car_Chit-19",x:741,y:1087},{name:"Car_Chit-27",x:974,y:1087}];
legendItems.forEach(it=>{
  svg.append("line").attr("x1",it.x).attr("x2",it.x+40).attr("y1",it.y).attr("y2",it.y)
    .attr("stroke",COL[it.name]).attr("stroke-width",5).attr("stroke-linecap","round");
  txt(it.x+47,it.y,it.name,{anchor:"start",size:19.5,mid:true,fill:"#222"});
});
svg.append("rect").attr("x",122).attr("y",1102).attr("width",32).attr("height",13).attr("fill","#e6e6e6").attr("stroke","#bbb");
txt(166,1108,"Equilibration window (0–10 ns; time-dependent panels)",{anchor:"start",size:19.5,mid:true,fill:"#333"});

// watermark
svg.append("text").attr("x",645).attr("y",858).attr("text-anchor","middle").attr("dominant-baseline","central")
  .attr("transform","rotate(-38,645,858)").text("ARTICLE IN PRESS")
  .style("font-size","78px").attr("fill","#b0b0b0").attr("opacity",0.45);
</script></body></html>
